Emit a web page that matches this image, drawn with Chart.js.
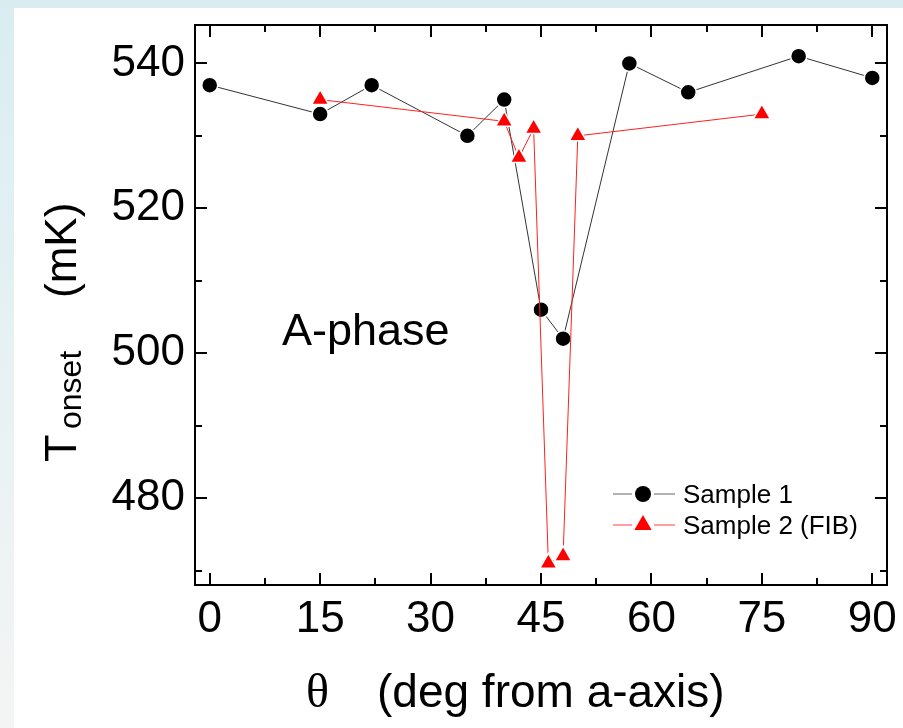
<!DOCTYPE html>
<html>
<head>
<meta charset="utf-8">
<script src="https://cdn.jsdelivr.net/npm/chart.js@4.4.1/dist/chart.umd.min.js"></script>
<style>
  html, body { margin: 0; padding: 0; }
  body {
    width: 903px; height: 728px; position: relative; overflow: hidden;
    background: linear-gradient(to bottom, #d9edf1 0%, #e6f1f3 45%, #f4f4f4 100%);
  }
  #panel { position: absolute; left: 14px; top: 8px; right: 0; bottom: 0; background: #fff; }
  #tonset { position: absolute; left: 0; top: 0; }
</style>
</head>
<body>
<div id="panel"></div>
<canvas id="tonset" width="903" height="728"></canvas>
<script>
// angle from a-axis (deg) and onset temperature (mK)
const sample1Angle = [0, 15, 22, 35, 40, 45, 48, 57, 65, 80, 90];
const sample1Tonset = [537, 533, 537, 530, 535, 506, 502, 540, 536, 541, 538];
const sample2Angle = [15, 40, 42, 44, 46, 48, 50, 75];
const sample2Tonset = [535, 532, 527, 531, 471, 472, 530, 533];

const xTicks = [0, 15, 30, 45, 60, 75, 90];
const xMinorTicks = [7.5, 22.5, 37.5, 52.5, 67.5, 82.5];
const yTicks = [480, 500, 520, 540];
const yMinorTicks = [470, 490, 510, 530];

const toPoints = (xs, ys) => xs.map((v, i) => ({ x: v, y: ys[i] }));

// box + inward ticks on all four sides
const frame = {
  id: 'frame',
  beforeDatasetsDraw(chart) {
    const { ctx, chartArea: a, scales: { x, y } } = chart;
    ctx.save();
    ctx.strokeStyle = '#000';
    ctx.lineWidth = 2;
    ctx.strokeRect(a.left, a.top, a.right - a.left, a.bottom - a.top);
    ctx.beginPath();
    const xt = (vals, len) => vals.forEach(v => {
      const p = Math.round(x.getPixelForValue(v));
      ctx.moveTo(p, a.bottom); ctx.lineTo(p, a.bottom - len);
      ctx.moveTo(p, a.top); ctx.lineTo(p, a.top + len);
    });
    const yt = (vals, len) => vals.forEach(v => {
      const p = Math.round(y.getPixelForValue(v));
      ctx.moveTo(a.left, p); ctx.lineTo(a.left + len, p);
      ctx.moveTo(a.right, p); ctx.lineTo(a.right - len, p);
    });
    xt(xTicks, 12); xt(xMinorTicks, 7);
    yt(yTicks, 12); yt(yMinorTicks, 7);
    ctx.stroke();
    ctx.restore();
  }
};

// axis titles, panel label and legend
const labels = {
  id: 'labels',
  afterDraw(chart) {
    const ctx = chart.ctx;
    ctx.save();
    ctx.fillStyle = '#000';
    ctx.textBaseline = 'alphabetic';

    ctx.font = '45px "Liberation Sans", Arial, sans-serif';
    ctx.fillText('A-phase', 282, 345);

    // x title
    ctx.font = '48px "Liberation Serif", "Times New Roman", serif';
    ctx.fillText('\u03b8', 306, 707);
    ctx.font = '46px "Liberation Sans", Arial, sans-serif';
    ctx.fillText('(deg from a-axis)', 377, 707);

    // y title (rotated)
    ctx.save();
    ctx.translate(76, 462);
    ctx.rotate(-Math.PI / 2);
    ctx.font = '45px "Liberation Sans", Arial, sans-serif';
    ctx.fillText('T', 0, 0);
    ctx.font = '32px "Liberation Sans", Arial, sans-serif';
    ctx.fillText('onset', 33, 5);
    ctx.font = '44px "Liberation Sans", Arial, sans-serif';
    ctx.fillText('(mK)', 164, 0);
    ctx.restore();

    // legend
    const rows = [494, 525];
    chart.data.datasets.forEach((ds, i) => {
      const yy = rows[i];
      ctx.strokeStyle = ds.legendLine;
      ctx.lineWidth = 1;
      ctx.beginPath();
      ctx.moveTo(613, yy); ctx.lineTo(632, yy);
      ctx.moveTo(654, yy); ctx.lineTo(675, yy);
      ctx.stroke();
      ctx.fillStyle = ds.pointBackgroundColor;
      Chart.helpers.drawPoint(ctx, {
        pointStyle: ds.pointStyle, radius: ds.pointRadius, rotation: 0, borderWidth: 0
      }, 643, yy);
      ctx.fillStyle = '#000';
      ctx.font = '26px "Liberation Sans", Arial, sans-serif';
      ctx.fillText(ds.label, 683, yy + 9);
    });
    ctx.restore();
  }
};

const noPad = s => { s.paddingTop = 0; s.paddingBottom = 0; s.paddingLeft = 0; s.paddingRight = 0; };

new Chart(document.getElementById('tonset'), {
  type: 'line',
  data: {
    datasets: [{
      label: 'Sample 1',
      data: toPoints(sample1Angle, sample1Tonset),
      borderColor: '#333',
      legendLine: '#666',
      borderWidth: 1,
      pointStyle: 'circle',
      pointRadius: 8,
      pointBackgroundColor: '#000',
      pointBorderColor: '#fff',
      pointBorderWidth: 1.5,
      order: 2
    }, {
      label: 'Sample 2 (FIB)',
      data: toPoints(sample2Angle, sample2Tonset),
      borderColor: '#ff2020',
      legendLine: '#ff4040',
      borderWidth: 1,
      pointStyle: 'triangle',
      pointRadius: 10,
      pointBackgroundColor: '#ff0000',
      pointBorderColor: '#fff',
      pointBorderWidth: 1.5,
      order: 1
    }]
  },
  options: {
    responsive: false,
    animation: false,
    layout: { padding: { top: 25, right: 16, left: 0, bottom: 0 } },
    plugins: { legend: { display: false }, tooltip: { enabled: false } },
    elements: { line: { tension: 0 } },
    scales: {
      x: {
        type: 'linear',
        min: -2,
        max: 92,
        afterBuildTicks: s => { s.ticks = xTicks.map(v => ({ value: v })); },
        afterFit: s => { s.height = 143; noPad(s); },
        grid: { display: false, drawTicks: false },
        border: { display: false },
        ticks: { color: '#000', padding: 8, font: { family: '"Liberation Sans", Arial', size: 44 } }
      },
      y: {
        type: 'linear',
        min: 468,
        max: 545.3,
        afterBuildTicks: s => { s.ticks = yTicks.map(v => ({ value: v })); },
        afterFit: s => { s.width = 195; noPad(s); },
        grid: { display: false, drawTicks: false },
        border: { display: false },
        ticks: { color: '#000', padding: 10, font: { family: '"Liberation Sans", Arial', size: 44 } }
      }
    }
  },
  plugins: [frame, labels]
});
</script>
</body>
</html>
